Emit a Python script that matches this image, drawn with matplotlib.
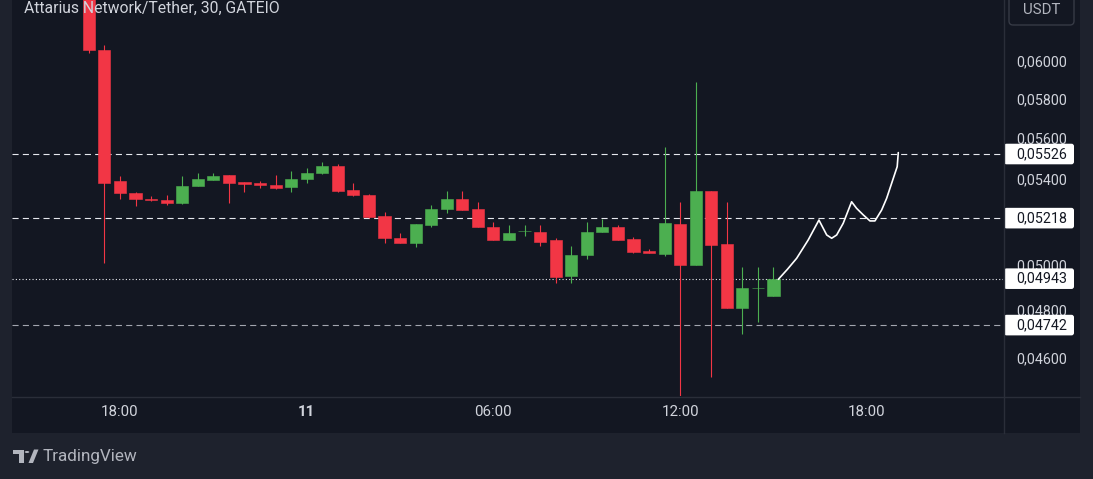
import matplotlib
matplotlib.use('Agg')
import matplotlib.pyplot as plt
from matplotlib.patches import Rectangle, FancyBboxPatch, Polygon, Circle
from matplotlib.lines import Line2D
from matplotlib.ticker import NullLocator

plt.rcParams['font.family'] = ['Roboto', 'DejaVu Sans']

title = "Attarius Network/Tether, 30, GATEIO"

# 30-minute candles, starting 17:00 (day 10)
opens = [0.06600, 0.06065, 0.05393, 0.05339, 0.05310, 0.05303, 0.05289, 0.05370, 0.05399, 0.05421,
         0.05389, 0.05385, 0.05375, 0.05365, 0.05406, 0.05432, 0.05466, 0.05353, 0.05328, 0.05228,
         0.05128, 0.05101, 0.05186, 0.05259, 0.05306, 0.05259, 0.05178, 0.05116, 0.05158, 0.05156,
         0.05115, 0.04954, 0.05048, 0.05154, 0.05177, 0.05120, 0.05067, 0.05054, 0.05193, 0.05004,
         0.05346, 0.05099, 0.04814, 0.04900, 0.04867]
highs = [0.06650, 0.06092, 0.05418, 0.05342, 0.05322, 0.05327, 0.05418, 0.05432, 0.05432, 0.05424,
         0.05391, 0.05394, 0.05423, 0.05441, 0.05455, 0.05486, 0.05478, 0.05385, 0.05330, 0.05245,
         0.05148, 0.05193, 0.05280, 0.05345, 0.05345, 0.05295, 0.05202, 0.05186, 0.05186, 0.05186,
         0.05126, 0.05090, 0.05202, 0.05214, 0.05186, 0.05129, 0.05074, 0.05563, 0.05295, 0.05893,
         0.05346, 0.05292, 0.04994, 0.04994, 0.04994]
lows = [0.06048, 0.05012, 0.05309, 0.05275, 0.05297, 0.05280, 0.05285, 0.05368, 0.05399, 0.05289,
        0.05342, 0.05360, 0.05358, 0.05342, 0.05385, 0.05427, 0.05342, 0.05323, 0.05220, 0.05101,
        0.05101, 0.05086, 0.05178, 0.05244, 0.05256, 0.05178, 0.05116, 0.05116, 0.05135, 0.05090,
        0.04922, 0.04923, 0.05030, 0.05154, 0.05117, 0.05058, 0.05058, 0.05043, 0.04440, 0.05004,
        0.04527, 0.04814, 0.04706, 0.04753, 0.04867]
closes = [0.06065, 0.05385, 0.05339, 0.05309, 0.05302, 0.05290, 0.05370, 0.05406, 0.05418, 0.05385,
          0.05380, 0.05375, 0.05361, 0.05406, 0.05432, 0.05466, 0.05345, 0.05328, 0.05225, 0.05128,
          0.05101, 0.05189, 0.05259, 0.05306, 0.05256, 0.05178, 0.05116, 0.05148, 0.05160, 0.05109,
          0.04951, 0.05049, 0.05156, 0.05177, 0.05117, 0.05063, 0.05058, 0.05195, 0.05004, 0.05346,
          0.05094, 0.04814, 0.04900, 0.04903, 0.04943]

xtick_pos = [2, 14, 26, 38, 50]
xtick_labels = ['18:00', '11', '06:00', '12:00', '18:00']
price_ticks = [0.046, 0.048, 0.050, 0.054, 0.056, 0.058, 0.060]
level_lines = [0.05526, 0.05218, 0.04742]
level_colors = ['#e6e8ee', '#e6e8ee', '#a3a6af']
last_price = 0.04943

# hand-drawn projection path (candle index, price)
path_x = [44.31, 44.9, 45.49, 46.23, 46.92, 47.42, 47.74, 48.06, 48.48, 49.02, 49.34, 49.77,
          50.20, 50.52, 50.95, 51.27, 51.95, 52.02]
path_y = [0.04940, 0.04985, 0.05034, 0.05117, 0.05209, 0.05140, 0.05125, 0.05140, 0.05194, 0.05295,
          0.05264, 0.05233, 0.05205, 0.05205, 0.05256, 0.05311, 0.05464, 0.05533]

UP = '#4caf50'
DOWN = '#f23645'
BG = '#131722'
OUTER = '#1e222d'
GRIDLINE = '#2a2e39'
TXT = '#d1d4dc'

W, H = 1093, 479
fig = plt.figure(figsize=(W / 100, H / 100), dpi=100, facecolor=OUTER)

fig.patches.append(Rectangle((12 / W, (H - 433) / H), (1080 - 12) / W, 433 / H,
                             transform=fig.transFigure, facecolor=BG, edgecolor='none', zorder=-1))

ax = fig.add_axes([12 / W, (H - 396) / H, (1003 - 12) / W, 396 / H])
ax.set_facecolor(BG)
ax.set_yscale('log')
ax.set_ylim(0.044506, 0.063421)
ax.set_xlim(-4.94, 58.75)
ax.yaxis.set_major_locator(NullLocator())
ax.yaxis.set_minor_locator(NullLocator())
for s in ax.spines.values():
    s.set_visible(False)

# candles
for i, (o, h, l, c) in enumerate(zip(opens, highs, lows, closes)):
    col = UP if c >= o else DOWN
    ax.vlines(i, l, h, color=col, lw=0.8, zorder=2)
    ax.bar(i, abs(c - o), bottom=min(o, c), width=0.78, color=col, edgecolor=col, lw=0.4, zorder=3)

for p, col in zip(level_lines, level_colors):
    ax.axhline(p, color=col, lw=0.8, ls=(0, (5.5, 3.8)), zorder=1)
ax.axhline(last_price, color='#e6e8ee', lw=0.8, ls=(0, (1, 2)), zorder=1)

ax.plot(path_x, path_y, color='white', lw=1.2, zorder=4, solid_capstyle='round')

ax.set_xticks(xtick_pos)
ax.set_xticklabels(xtick_labels)
ax.tick_params(axis='x', length=0, pad=6.5, labelsize=10.8, labelcolor=TXT)
ax.tick_params(axis='y', length=0, labelleft=False)
for lab in ax.get_xticklabels():
    if lab.get_text() == '11':
        lab.set_fontweight('bold')

# separators
fig.lines.append(Line2D([12 / W, 1080 / W], [(H - 396.5) / H] * 2, transform=fig.transFigure,
                        color=GRIDLINE, lw=1))
fig.lines.append(Line2D([1003.5 / W] * 2, [(H - 433) / H, 1], transform=fig.transFigure,
                        color=GRIDLINE, lw=1))

# price axis
ax2 = fig.add_axes([1003 / W, (H - 396) / H, 77 / W, 396 / H])
ax2.set_xlim(0, 77)
ax2.set_ylim(0, 396)
ax2.set_axis_off()

base = H - 396


def ypix(p):
    return ax.transData.transform((0, p))[1] - base


def fmt(p):
    return f"{p:.5f}".replace('.', ',')


for p in price_ticks:
    ax2.text(13, ypix(p), fmt(p), va='center', ha='left', color=TXT, fontsize=10.3, zorder=2)

for p in level_lines + [last_price]:
    y = ypix(p)
    ax2.add_patch(FancyBboxPatch((1, y - 10.3), 70, 20.6, boxstyle='round,pad=0,rounding_size=2.5',
                                 fc='white', ec='none', zorder=3))
    ax2.text(13, y, fmt(p), va='center', ha='left', color='#131722', fontsize=10.3, zorder=4)

ax2.add_patch(FancyBboxPatch((6, 371), 65, 40, boxstyle='round,pad=0,rounding_size=4',
                             fc='none', ec='#363a45', lw=1, clip_on=False, zorder=3))
ax2.text(38.5, 386.5, 'USDT', ha='center', va='center', color='#b2b5be', fontsize=10.8, clip_on=False)

# title
fig.text(24 / W, 1 - 8 / H, title, ha='left', va='center', color=TXT, fontsize=11.3, zorder=5)

# footer logo
LOGO = '#b2b5be'


def fx(x):
    return x / W


def fy(y):
    return 1 - y / H


fig.patches.append(Polygon([(fx(13), fy(449.5)), (fx(23.5), fy(449.5)), (fx(23.5), fy(463)),
                            (fx(18.5), fy(463)), (fx(18.5), fy(454)), (fx(13), fy(454))],
                           closed=True, transform=fig.transFigure, fc=LOGO, ec='none'))
fig.patches.append(Circle((fx(27), fy(452)), 2.3 / W, transform=fig.transFigure, fc=LOGO, ec='none'))
fig.patches.append(Polygon([(fx(28.5), fy(463)), (fx(33), fy(463)), (fx(38.5), fy(449.5)),
                            (fx(34), fy(449.5))],
                           closed=True, transform=fig.transFigure, fc=LOGO, ec='none'))
fig.text(43 / W, fy(456), 'TradingView', ha='left', va='center', color=LOGO, fontsize=12.3)

fig.savefig('out.png', dpi=100, facecolor=OUTER)
